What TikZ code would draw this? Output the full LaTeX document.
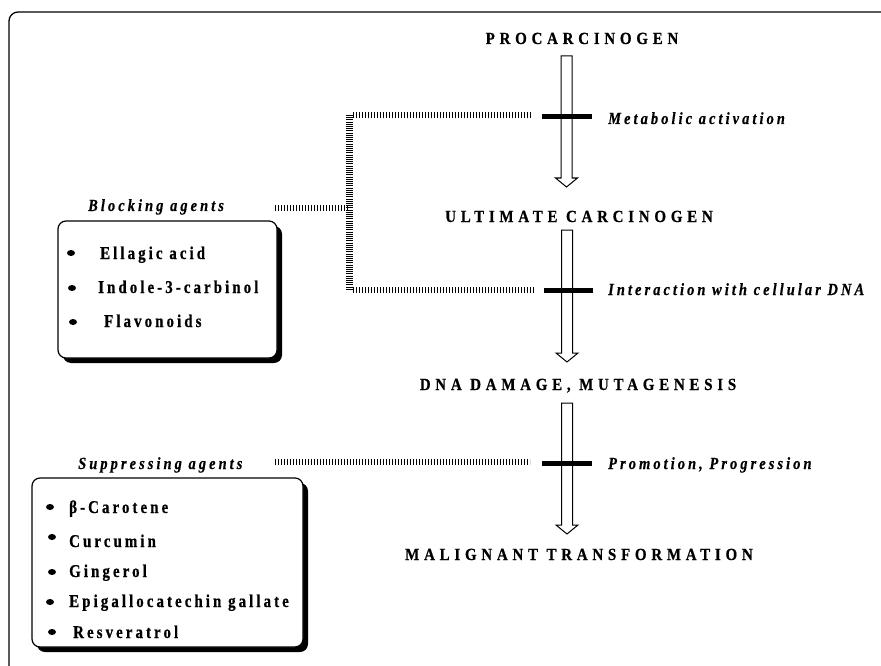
\documentclass[tikz,border=0pt]{standalone}
\usepackage{fontspec}
\setmainfont{Liberation Serif}
\newfontfamily\stagefont[LetterSpace=28,FakeStretch=0.88,FakeBold=0.6]{Liberation Serif}
\newfontfamily\stepfont[LetterSpace=18,FakeStretch=0.85,FakeBold=0.5]{Liberation Serif}
\newfontfamily\itemfont[LetterSpace=17,FakeStretch=0.83,FakeBold=0.6]{Liberation Serif}
\usetikzlibrary{calc,shadows}

\tikzset{
  stage/.style={anchor=base, inner sep=0, font={\stagefont\bfseries\fontsize{17}{20}\selectfont}},
  steplbl/.style={anchor=base west, inner sep=0, font={\stepfont\bfseries\itshape\fontsize{17}{20}\selectfont}},
  agentlbl/.style={anchor=base west, inner sep=0, font={\stepfont\bfseries\itshape\fontsize{17}{20}\selectfont}},
  agent/.style={anchor=base west, inner sep=0, font={\itemfont\bfseries\fontsize{18}{21}\selectfont}},
  agentbox/.style={draw, fill=white, line width=1.2pt, rounded corners=8pt, inner sep=0,
    drop shadow={shadow xshift=5pt, shadow yshift=-5pt, fill=black, opacity=1}},
  hatch/.style={line width=5.5pt, dash pattern=on 1.1pt off 1.9pt},
  vhatch/.style={line width=7pt, dash pattern=on 1pt off 1.2pt},
  blockbar/.style={line width=5pt},
  frame/.style={line width=1.3pt, rounded corners=9pt},
}

% open double-lined arrow from #1 down to #2
\newcommand{\hollowarrow}[2]{%
  \draw[line width=1pt, fill=white] let \p1=(#1), \p2=(#2) in
    (\x1-5.5pt,\y1) -- (\x1+5.5pt,\y1) -- (\x1+5.5pt,\y2+9pt) -- (\x1+11pt,\y2+9pt)
    -- (\x1,\y2) -- (\x1-11pt,\y2+9pt) -- (\x1-5.5pt,\y2+9pt) -- cycle;}

\begin{document}
\begin{tikzpicture}[x=1pt,y=-1pt]
  \useasboundingbox (0,0) rectangle (881,666);
  \draw[frame] (9,675) -- (9,12) -- (890,12);

  % stages
  \node[stage] (procarc) at (582,44) {PROCARCINOGEN};
  \node[stage] (ultimate) at (579,222) {ULTIMATE CARCINOGEN};
  \node[stage] (dnadamage) at (578,390) {DNA DAMAGE, MUTAGENESIS};
  \node[stage] (malignant) at (579,560) {MALIGNANT TRANSFORMATION};

  % arrows between stages
  \coordinate (top1) at (566.5,56);  \coordinate (tip1) at (566.5,187);
  \coordinate (top2) at (567,230);   \coordinate (tip2) at (567,362);
  \coordinate (top3) at (567,403);   \coordinate (tip3) at (567,534);
  \hollowarrow{top1}{tip1}
  \hollowarrow{top2}{tip2}
  \hollowarrow{top3}{tip3}

  % blocked steps
  \coordinate (bar1w) at (542,117); \coordinate (bar1e) at (592,117);
  \coordinate (bar2w) at (544,290); \coordinate (bar2e) at (593,290);
  \coordinate (bar3w) at (542,463); \coordinate (bar3e) at (592,463);
  \draw[blockbar] (bar1w) -- (bar1e);
  \draw[blockbar] (bar2w) -- (bar2e);
  \draw[blockbar] (bar3w) -- (bar3e);
  \node[steplbl] (metab) at (608,124) {Metabolic activation};
  \node[steplbl] (interact) at (608,295) {Interaction with cellular DNA};
  \node[steplbl] (promo) at (608,469) {Promotion, Progression};

  % blocking agents
  \node[agentlbl] (blocklbl) at (88,211) {Blocking agents};
  \node[agentbox, minimum width=219pt, minimum height=137pt] (blockbox) at (167.5,289.5) {};
  \fill (71,253) ellipse (4pt and 3pt);
  \fill (72,288) ellipse (4pt and 3pt);
  \fill (73,322) ellipse (4pt and 3pt);
  \node[agent] (ellagic) at (100,259) {Ellagic acid};
  \node[agent] (indole) at (98,293) {Indole-3-carbinol};
  \node[agent] (flavo) at (104,327) {Flavonoids};

  % suppressing agents
  \node[agentlbl] (supplbl) at (78,469) {Suppressing agents};
  \node[agentbox, minimum width=271pt, minimum height=169pt] (suppbox) at (167.5,562.5) {};
  \fill (50,507) ellipse (4pt and 3pt);
  \fill (52,537) ellipse (4pt and 3pt);
  \fill (52,572) ellipse (4pt and 3pt);
  \fill (50,602) ellipse (4pt and 3pt);
  \fill (52,632) ellipse (4pt and 3pt);
  \node[agent] (carotene) at (69,513) {β-Carotene};
  \node[agent] (curcumin) at (69,547) {Curcumin};
  \node[agent] (gingerol) at (69,577) {Gingerol};
  \node[agent] (egcg) at (69,607) {Epigallocatechin gallate};
  \node[agent] (resv) at (73,638) {Resveratrol};

  % hatched connectors
  \coordinate (jtop) at (349,115); \coordinate (jmid) at (349,208); \coordinate (jbot) at (349,290);
  \coordinate (blockend) at (275,208); \coordinate (suppend) at (275,462);
  \draw[vhatch] (jtop) -- (jbot);
  \draw[hatch] (blockend) -- (jmid);
  \draw[hatch] ($(jtop)+(4,0)$) -- ($(bar1w)+(-10,-2)$);
  \draw[hatch] ($(jbot)+(4,0)$) -- ($(bar2w)+(-9,0)$);
  \draw[hatch] (suppend) -- ($(bar3w)+(-12,-1)$);
\end{tikzpicture}
\end{document}
